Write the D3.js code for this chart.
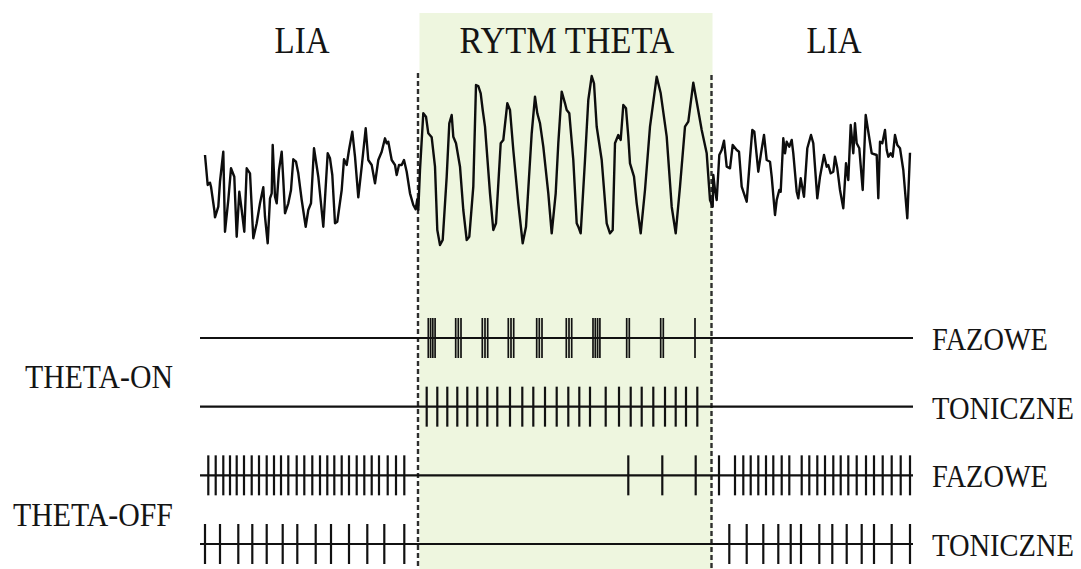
<!DOCTYPE html>
<html>
<head>
<meta charset="utf-8">
<script src="https://cdn.jsdelivr.net/npm/d3@7/dist/d3.min.js"></script>
<style>
  html, body { margin: 0; padding: 0; background: #ffffff; }
  svg { display: block; }
  text { font-family: "Liberation Serif", "DejaVu Serif", serif; fill: #141414; }
</style>
</head>
<body>
<svg id="chart" width="1081" height="569"></svg>
<script>
// Recording window, ms
const timeDomain = [0, 713];
// Epoch boundaries (LIA | theta | LIA), ms
const thetaStart = 218;
const thetaEnd = 511.5;
const epochLabels = ["LIA", "RYTM THETA", "LIA"];

// Field potential trace: sample times (ms) and amplitudes (µV)
const eegTime = [
  5, 7.7, 10, 11, 14.3, 15, 18.3, 20, 23.3, 25, 28.3, 31, 34.3, 36.7, 39.3, 41.7, 44.3, 46.7, 50, 53.3,
  56.7, 60, 63.3, 65, 67.7, 70, 71.7, 72.7, 75, 76.7, 79, 81.7, 83.3, 85, 88.3, 91, 93.3, 96, 98.3, 101.7,
  105.7, 108.3, 111, 114, 118.3, 123.3, 127.7, 130, 132.3, 135, 137.3, 141.7, 144, 146.7, 149, 152.3, 155, 158.3, 161.7, 165.7,
  168.3, 171.7, 175, 178.3, 181.7, 185, 186.7, 188.3, 191.7, 195, 196.7, 199, 201.7, 204, 206.7, 210, 213.3, 215.7, 217.3, 218.3,
  220, 223.3, 226, 228.3, 231.7, 235, 237.3, 240, 242.7, 246.7, 249.3, 251.7, 253.3, 256, 260, 263.3, 266.7, 269.3, 273.3, 276,
  278.3, 280.7, 282.7, 285, 290, 293.3, 296, 300.7, 303.3, 307.3, 310, 313.3, 318.3, 322.7, 326, 331.7, 335, 337.3, 340, 343.3,
  348.3, 351.7, 355.7, 358.3, 361.7, 365, 366.7, 369.3, 373.3, 376.7, 378.3, 380.7, 385, 388.3, 391.7, 394, 396.7, 401.7, 406.7, 410,
  412.7, 415, 418.3, 420.7, 423.3, 426, 428.3, 430, 434, 436.7, 440.7, 445, 450, 456.7, 460.7, 466.7, 471.7, 475.7, 480, 485,
  488.3, 493.3, 496.7, 501.7, 506.7, 510, 512.7,
  513.3, 515, 516.7, 519.3, 521.7, 524, 526.7, 530, 532.7, 536.7, 539, 541.7, 545, 546.7, 550, 552.3, 554.3, 558.3, 561, 564,
  566.7, 570, 571.7, 575, 576.7, 579.3, 580.7, 583.3, 585, 586.7, 589.3, 591.7, 593.3, 596.7, 598.3, 600.7, 604, 607.3, 611, 613.3,
  617.3, 620, 624, 626.7, 628.3, 630.7, 633.3, 635, 637.3, 640, 643.3, 646, 648.3, 650.7, 653.3, 655, 656.7, 659.3, 662.7, 665.7,
  668.3, 671.7, 676.7, 678.3, 680, 682.3, 685, 686.7, 688.3, 690.7, 692.7, 695, 697.3, 700, 703.3, 707.3, 710
];
const eegValue = [
  -5, -35, -32.7, -36.7, -60, -67.3, -56.7, -31.7, -1.7, -81.7, -50, -18.3, -26.7, -86.7, -41.7, -60, -81.7, -18.3, -23.3, -88.3,
  -73.3, -53.3, -37.3, -66.7, -93.3, -48.3, -43.3, 5, -46.7, -53.3, -20, -1.7, -30, -63.3, -53.3, -40, -9.3, -11.7, -23.3, -50,
  -76.7, -60, -53.3, 1.7, -26.7, -76.7, -3.3, -8.3, -25, -73.3, -71.7, -40, -9.3, -15, 0, 18.3, -6.7, -47.3, -16.7, 21.7,
  -10, -15, -33.3, -10, -1.7, 11.7, 6.7, 8.3, -10, -15, -25, -15, -15, -10, -21.7, -43.3, -55, -59.3, -49.3, -60,
  -20, 36.7, 33.3, 16.7, 12.7, -16.7, -80, -95, -90, -26.7, 26.7, 35, 13.3, 6.7, -16.7, -60, -90, -86.7, -36.7, 65,
  64, 56.7, 40, 23.3, -43.3, -80, -73.3, 6.7, 10, 46.7, 40, 0, -53.3, -93.3, -76.7, 16.7, 53.3, 36.7, 26.7, 3.3,
  -43.3, -83.3, -43.3, 6.7, 58.3, 46.7, 40, 36.7, -10, -73.3, -76.7, -83.3, -10, 50, 74, 66.7, 23.3, -10, -73.3, -83.3,
  -80, 6.7, 15, 10, 45, 41.7, 13.3, -13.3, -26.7, -53.3, -83.3, -40, 23.3, 73.3, 56.7, 13.3, -56.7, -83.3, -36.7, 23.3,
  28.3, 67.3, 48.3, 20, -3.3, -50, -56.7,
  -25, -40, -50, -5, 0, 9.3, -16.7, -18.3, 5, 0, -1.7, -36.7, -46.7, -51.7, -8.3, 20, 18.3, -21.7, -3.3, 15,
  -10, -11.7, -26.7, -65, -50, -40, -41.7, 11.7, -3.3, 8.3, 3.3, 10, -3.3, -41.7, -48.3, -28.3, -46.7, 1.7, 15, 6.7,
  -48.3, -26.7, -5, -16.7, -15, -23.3, -21.7, -6.7, -18.3, -40, -58.3, -13.3, -30, 25, -3.3, 26.7, 6.7, 1.7, -40, 35,
  18.3, -3.3, -5, -48.3, 8.3, 6.7, 20, 0, -6.7, -3.3, -6.7, 15, 5, 1.7, -20, -68.3, -2.7
];

// Spike trains (spike times, ms)
const thetaOnPhasic = [
  228.3, 230.6, 232.8, 235.1, 255.7, 258.3, 261, 282.3, 285, 287.7, 308.3, 311, 313.7,
  336.7, 339.3, 342, 366.3, 369, 371.7, 393, 395.3, 397.6, 399.9, 426.7, 429.3, 460.7, 463.3, 495
];
const thetaOnTonic = [
  226.7, 237.3, 247.3, 257.3, 267.3, 277.3, 287.3, 297.3, 310, 322.3, 333.3, 345, 356.7, 368.3, 379.3,
  390, 405.7, 419, 430.7, 441.7, 453.3, 465, 475.7, 486, 497.3
];
const thetaOffPhasic = [
  8.3, 15.7, 23.3, 30, 36.7, 44, 51.7, 59, 66.7, 74, 81, 88.3, 96.7, 104.3, 112.3, 120, 127.3, 134.3,
  141.7, 149, 156.7, 164.3, 171.7, 179, 187.7, 196, 204.3,
  428.3, 462.3, 495.7,
  519, 535, 543.3, 550.7, 558.3, 566, 573.3, 581.7, 589.3, 601.7, 609.3, 617.3, 625, 633.3, 640.7, 648.3,
  656.7, 666, 674, 682.7, 691.7, 700.7, 710
];
const thetaOffTonic = [
  5, 20, 38.3, 52.3, 66.7, 82.7, 97.3, 115.7, 131, 149, 167.3, 184.3, 204.3,
  529.3, 546.7, 563.3, 578.3, 590.7, 601, 619.3, 632.3, 646.7, 661.7, 674, 691.7, 710
];
const trainNames = ["FAZOWE", "TONICZNE", "FAZOWE", "TONICZNE"];
const groupNames = ["THETA-ON", "THETA-OFF"];

const svg = d3.select("#chart");

const x = d3.scaleLinear().domain(timeDomain).range([200, 913]);
const y = d3.scaleLinear().domain([-100, 100]).range([250, 50]);
const row = d3.scalePoint().domain(d3.range(4)).range([338, 544]);
const spikeHalf = 20;

// Narrow a label horizontally so it spans the given width;
// anchor: 0 = start, 0.5 = middle, 1 = end
function fitLabel(sel, px, py, width, anchor) {
  sel.each(function (d, i) {
    const node = this;
    const natural = node.getComputedTextLength();
    const w = typeof width === "function" ? width(d, i) : width;
    const s = w / natural;
    const ax = typeof px === "function" ? px(d, i) : px;
    const ay = typeof py === "function" ? py(d, i) : py;
    d3.select(node)
      .attr("x", 0).attr("y", 0)
      .attr("transform", `translate(${ax - anchor * w},${ay}) scale(${s},1)`);
  });
}

// theta epoch shading
svg.append("rect")
  .attr("x", x(thetaStart) + 1.5)
  .attr("y", 13)
  .attr("width", x(thetaEnd) - x(thetaStart) - 0.5)
  .attr("height", 569 - 13)
  .attr("fill", "#eef6df");

// epoch titles
const titleAt = [302, 567, 834];
svg.selectAll("text.epoch")
  .data(epochLabels)
  .join("text")
  .attr("class", "epoch")
  .attr("font-size", 37)
  .text(d => d)
  .call(fitLabel, (d, i) => titleAt[i], 53, d => d === "LIA" ? 55 : 215, 0.5);

// epoch boundaries
svg.selectAll("line.bound")
  .data([[thetaStart, 73], [thetaEnd, 75]])
  .join("line")
  .attr("class", "bound")
  .attr("x1", d => x(d[0]))
  .attr("x2", d => x(d[0]))
  .attr("y1", d => d[1])
  .attr("y2", 569)
  .attr("stroke", "#2e2e2e")
  .attr("stroke-width", 2.4)
  .attr("stroke-dasharray", "5,3");

// field potential trace
const trace = d3.line()
  .x((d, i) => x(eegTime[i]))
  .y(d => y(d));
svg.append("path")
  .attr("d", trace(eegValue))
  .attr("fill", "none")
  .attr("stroke", "#0d0d0d")
  .attr("stroke-width", 2.4)
  .attr("stroke-linejoin", "round");

// spike trains
const trains = [thetaOnPhasic, thetaOnTonic, thetaOffPhasic, thetaOffTonic];
trains.forEach((spikes, r) => {
  const g = svg.append("g");
  g.append("line")
    .attr("x1", x(timeDomain[0]))
    .attr("x2", x(timeDomain[1]))
    .attr("y1", row(r))
    .attr("y2", row(r))
    .attr("stroke", "#111")
    .attr("stroke-width", 2.2);
  g.selectAll("line.spike")
    .data(spikes)
    .join("line")
    .attr("class", "spike")
    .attr("x1", d => x(d))
    .attr("x2", d => x(d))
    .attr("y1", row(r) - spikeHalf)
    .attr("y2", row(r) + spikeHalf)
    .attr("stroke", "#111")
    .attr("stroke-width", r === 0 ? 1.7 : 2.2);
});

// train labels (right)
svg.selectAll("text.train")
  .data(trainNames)
  .join("text")
  .attr("class", "train")
  .attr("font-size", 31)
  .text(d => d)
  .call(fitLabel, 932, (d, i) => row(i) + 12, d => d === "FAZOWE" ? 116 : 142, 0);

// cell group labels (left)
svg.selectAll("text.group")
  .data(groupNames)
  .join("text")
  .attr("class", "group")
  .attr("font-size", 33)
  .text(d => d)
  .call(fitLabel, 173, (d, i) => (row(2 * i) + row(2 * i + 1)) / 2 + 16, (d, i) => i === 0 ? 148 : 160, 1);
</script>
</body>
</html>
